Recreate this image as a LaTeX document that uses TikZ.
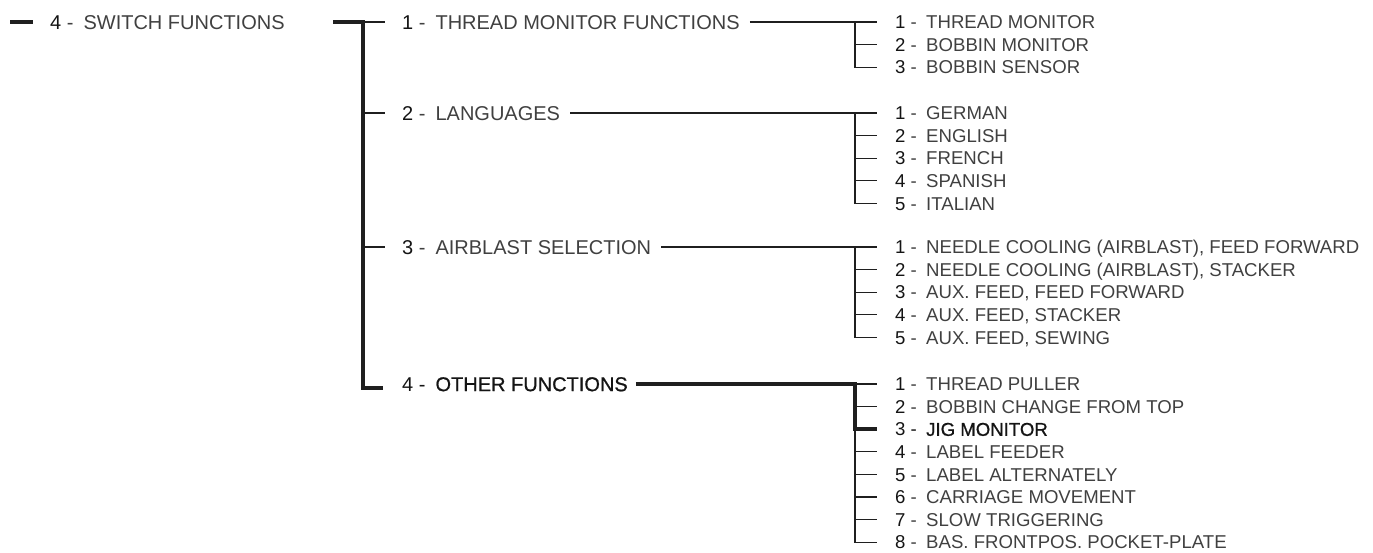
\documentclass[tikz,border=0pt]{standalone}
\usepackage{fontspec}
\setmainfont{Liberation Sans}
\newfontfamily\heavyfont[FakeBold=0.8]{Liberation Sans}
\usepackage{xcolor}
\usepackage{tikz}
\usetikzlibrary{positioning}

\definecolor{ink}{gray}{0.25}
\definecolor{numink}{gray}{0.08}
\definecolor{lineink}{gray}{0.12}
\newcommand{\nr}[1]{\textcolor{numink}{#1} -\hspace{0.5em}}

\tikzset{
  lvtwo/.style={anchor=west, inner sep=0pt, text height=14.3pt, text depth=0pt, text=ink, font=\fontsize{20}{24}\selectfont},
  lvthree/.style={anchor=west, inner sep=0pt, text height=13.3pt, text depth=0pt, text=ink, font=\fontsize{18.6}{22}\selectfont},
  light/.style={draw=lineink, line width=1.2pt},
  heavy/.style={draw=lineink, line width=4pt}
}

\begin{document}
\begin{tikzpicture}[x=1pt, y=-1pt]
    \useasboundingbox (0,0) rectangle (1373,553);
    \node[lvtwo] (sw) at (50,22) {\nr{4}SWITCH FUNCTIONS};
    \node[lvtwo] (thr) at (402,22) {\nr{1}THREAD MONITOR FUNCTIONS};
    \node[lvtwo] (lang) at (402,113) {\nr{2}LANGUAGES};
    \node[lvtwo] (air) at (402,247) {\nr{3}AIRBLAST SELECTION};
    \node[lvtwo, text=numink] (oth) at (402,384) {\nr{4}{\heavyfont OTHER FUNCTIONS}};

    \node[lvthree] (thr1) at (895,22) {\nr{1}THREAD MONITOR};
    \node[lvthree] (thr2) at (895,44.6) {\nr{2}BOBBIN MONITOR};
    \node[lvthree] (thr3) at (895,67.2) {\nr{3}BOBBIN SENSOR};

    \node[lvthree] (lang1) at (895,113) {\nr{1}GERMAN};
    \node[lvthree] (lang2) at (895,135.6) {\nr{2}ENGLISH};
    \node[lvthree] (lang3) at (895,158.2) {\nr{3}FRENCH};
    \node[lvthree] (lang4) at (895,180.8) {\nr{4}SPANISH};
    \node[lvthree] (lang5) at (895,203.4) {\nr{5}ITALIAN};

    \node[lvthree] (air1) at (895,247) {\nr{1}NEEDLE COOLING (AIRBLAST), FEED FORWARD};
    \node[lvthree] (air2) at (895,269.6) {\nr{2}NEEDLE COOLING (AIRBLAST), STACKER};
    \node[lvthree] (air3) at (895,292.2) {\nr{3}AUX. FEED, FEED FORWARD};
    \node[lvthree] (air4) at (895,314.8) {\nr{4}AUX. FEED, STACKER};
    \node[lvthree] (air5) at (895,337.4) {\nr{5}AUX. FEED, SEWING};

    \node[lvthree] (oth1) at (895,384) {\nr{1}THREAD PULLER};
    \node[lvthree] (oth2) at (895,406.6) {\nr{2}BOBBIN CHANGE FROM TOP};
    \node[lvthree, text=numink] (oth3) at (895,429.2) {\nr{3}{\heavyfont JIG MONITOR}};
    \node[lvthree] (oth4) at (895,451.8) {\nr{4}LABEL FEEDER};
    \node[lvthree] (oth5) at (895,474.4) {\nr{5}LABEL ALTERNATELY};
    \node[lvthree] (oth6) at (895,497) {\nr{6}CARRIAGE MOVEMENT};
    \node[lvthree] (oth7) at (895,519.6) {\nr{7}SLOW TRIGGERING};
    \node[lvthree] (oth8) at (895,542.2) {\nr{8}BAS. FRONTPOS. POCKET-PLATE};

    \coordinate (dashl) at (10,22);
    \coordinate (dashr) at (33,22);
    \coordinate (hub) at (333,22);
    \coordinate (trunk) at (363,22);
    \coordinate (foot) at (383,388);
    \coordinate (thrv) at (855,22);
    \coordinate (langv) at (855,113);
    \coordinate (airv) at (855,247);
    \coordinate (othv) at (855,384);

    \draw[heavy] (dashl) -- (dashr);
    \draw[heavy] (hub) -- (trunk) |- (foot);
    \draw[light] (trunk) -- ([xshift=-17]thr.west);
    \draw[light] (trunk |- lang.west) -- ([xshift=-17]lang.west);
    \draw[light] (trunk |- air.west) -- ([xshift=-17]air.west);

    \draw[light] ([xshift=10]thr.east) -- ([xshift=-18]thr1.west);
    \draw[light] (thrv) |- ([xshift=-18]thr3.west);
    \draw[light] (thrv |- thr2.west) -- ([xshift=-18]thr2.west);

    \draw[light] ([xshift=10]lang.east) -- ([xshift=-18]lang1.west);
    \draw[light] (langv) |- ([xshift=-18]lang5.west);
    \draw[light] (langv |- lang2.west) -- ([xshift=-18]lang2.west);
    \draw[light] (langv |- lang3.west) -- ([xshift=-18]lang3.west);
    \draw[light] (langv |- lang4.west) -- ([xshift=-18]lang4.west);

    \draw[light] ([xshift=10]air.east) -- ([xshift=-18]air1.west);
    \draw[light] (airv) |- ([xshift=-18]air5.west);
    \draw[light] (airv |- air2.west) -- ([xshift=-18]air2.west);
    \draw[light] (airv |- air3.west) -- ([xshift=-18]air3.west);
    \draw[light] (airv |- air4.west) -- ([xshift=-18]air4.west);

    \draw[light] (othv) |- ([xshift=-18]oth8.west);
    \draw[light] (othv) -- ([xshift=-18]oth1.west);
    \draw[light] (othv |- oth2.west) -- ([xshift=-18]oth2.west);
    \draw[light] (othv |- oth4.west) -- ([xshift=-18]oth4.west);
    \draw[light] (othv |- oth5.west) -- ([xshift=-18]oth5.west);
    \draw[light] (othv |- oth6.west) -- ([xshift=-18]oth6.west);
    \draw[light] (othv |- oth7.west) -- ([xshift=-18]oth7.west);
    \draw[heavy] ([xshift=8]oth.east) -| (othv |- oth3.west) -- ([xshift=-18]oth3.west);
  \end{tikzpicture}
\end{document}
